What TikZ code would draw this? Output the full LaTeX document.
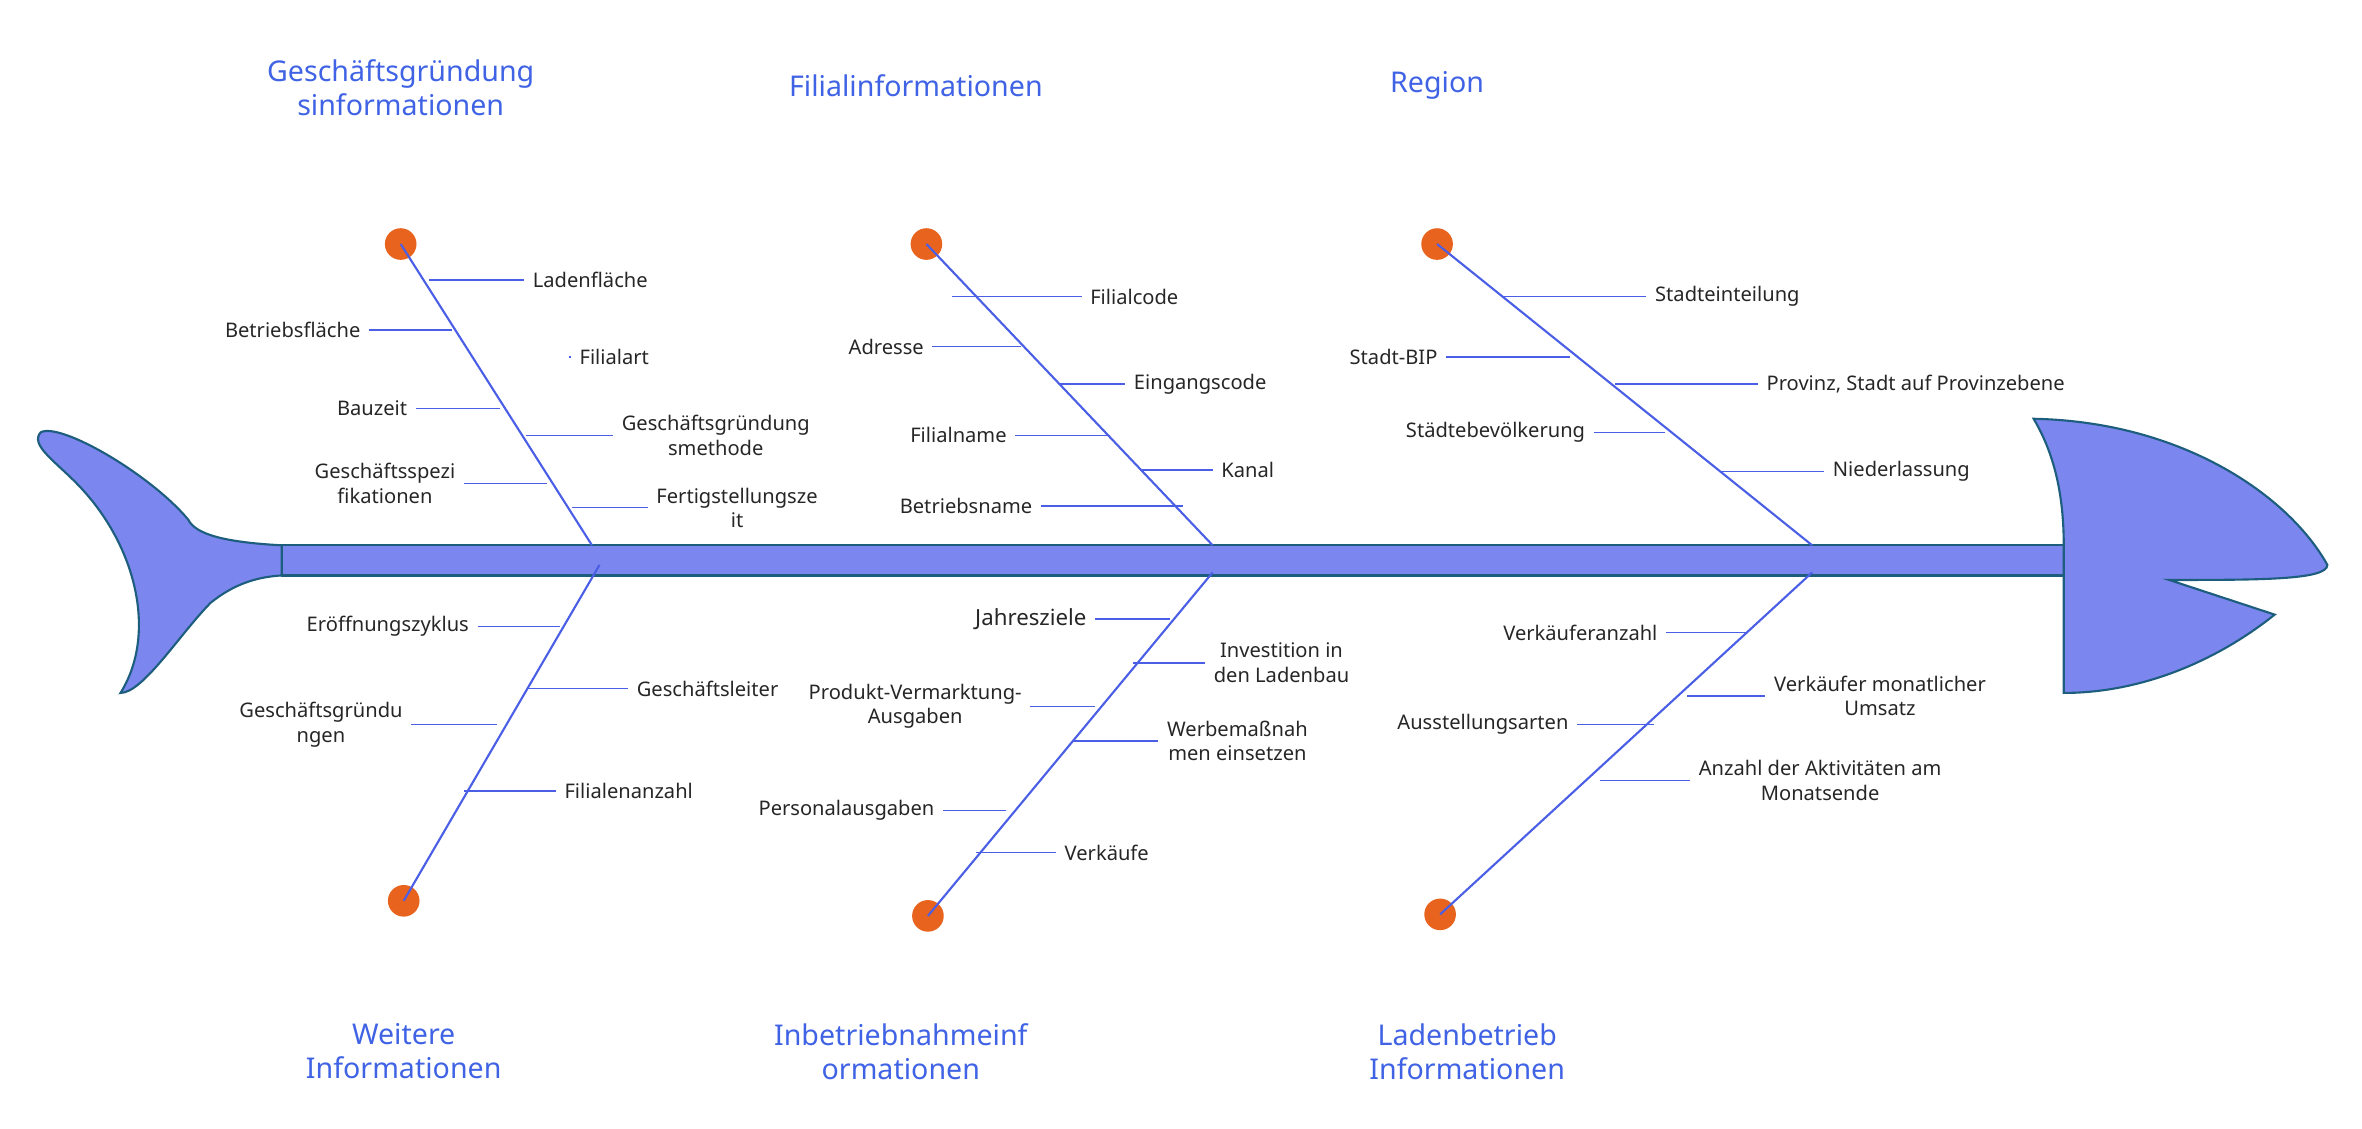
\documentclass[tikz,border=0pt]{standalone}
\usepackage{fontspec}
\setmainfont{Noto Sans}
\begin{document}
\begin{tikzpicture}[x=0.05cm,y=-0.05cm,
 body/.style={fill=fishfill,draw=fishedge,line width=2pt},
 bone/.style={draw=bonec,line width=2pt},
 sub/.style={draw=bonec,line width=1.3pt},
 dot/.style={circle,fill=dotc,minimum size=1.05cm,inner sep=0pt},
 lbl/.style={font=\fontsize{19}{23}\selectfont,text=black!85,align=center,inner sep=8pt},
 ttl/.style={font=\fontsize{27}{32}\selectfont\bfseries,text=titlec,align=center}]
\definecolor{fishfill}{HTML}{7B86EE}
\definecolor{fishedge}{HTML}{1D5E7E}
\definecolor{bonec}{HTML}{4A5FE6}
\definecolor{dotc}{HTML}{E8641E}
\definecolor{titlec}{HTML}{3F63E4}
\useasboundingbox (0,0) rectangle (1568,749);
% fish
\draw[body] (187,362) .. controls (150,360) and (130,355) .. (125,345) .. controls (100,315) and (40,280) .. (27,287) .. controls (20,295) and (35,305) .. (50,320) .. controls (90,360) and (105,420) .. (80,460) .. controls (95,460) and (120,420) .. (140,400) .. controls (155,388) and (170,383) .. (187,382) -- cycle;
\draw[body] (187,362) rectangle (1370,382);
\draw[body] (1370,362) .. controls (1370,320) and (1360,295) .. (1350,278) .. controls (1450,280) and (1520,330) .. (1545,375) .. controls (1545,385) and (1500,385) .. (1440,385) -- (1510,408) .. controls (1470,440) and (1420,460) .. (1370,460) -- cycle;
% dots and bones
\node[dot] (d1) at (266,162) {}; \coordinate (s1) at (393,362);
\node[dot] (d2) at (615,162) {}; \coordinate (s2) at (805,362);
\node[dot] (d3) at (954,162) {}; \coordinate (s3) at (1203,362);
\node[dot] (d4) at (268,598) {}; \coordinate (s4) at (398,375);
\node[dot] (d5) at (616,608) {}; \coordinate (s5) at (805,380);
\node[dot] (d6) at (956,607) {}; \coordinate (s6) at (1203,380);
\foreach \i in {1,...,6} \draw[bone] (d\i.center) -- (s\i);
% titles
\node[ttl] (t1) at (266,58) {Geschäftsgründung\\sinformationen};
\node[ttl] (t2) at (608,57) {Filialinformationen};
\node[ttl] (t3) at (954,57) {Region};
\node[ttl] (t4) at (268,698) {Weitere\\Informationen};
\node[ttl] (t5) at (598,698) {Inbetriebnahmeinf\\ormationen};
\node[ttl] (t6) at (974,698) {Ladenbetrieb\\Informationen};
% sub branches
\newcommand\fbR[5]{\node[lbl,anchor=west] (#1) at (#4,#3) {#5}; \draw[sub] (#2,#3) -- (#1.west);}
\newcommand\fbL[5]{\node[lbl,anchor=east] (#1) at (#4,#3) {#5}; \draw[sub] (#2,#3) -- (#1.east);}
\fbR{a1}{285}{186}{348}{Ladenfläche}
\fbL{a2}{300}{219}{245}{Betriebsfläche}
\fbR{a3}{378}{237}{379}{Filialart}
\fbL{a4}{332}{271}{276}{Bauzeit}
\fbR{a5}{349}{289}{407}{Geschäftsgründung\\smethode}
\fbL{a6}{363}{321}{308}{Geschäftsspezi\\fikationen}
\fbR{a7}{380}{337}{430}{Fertigstellungsze\\it}
\fbR{b1}{632}{197}{718}{Filialcode}
\fbL{b2}{678}{230}{619}{Adresse}
\fbR{b3}{703}{255}{747}{Eingangscode}
\fbL{b4}{737}{289}{674}{Filialname}
\fbR{b5}{757}{312}{805}{Kanal}
\fbL{b6}{785}{336}{691}{Betriebsname}
\fbR{c1}{997}{197}{1093}{Stadteinteilung}
\fbL{c2}{1042}{237}{960}{Stadt-BIP}
\fbR{c3}{1072}{255}{1167}{Provinz, Stadt auf Provinzebene}
\fbL{c4}{1105}{287}{1058}{Städtebevölkerung}
\fbR{c5}{1142}{313}{1211}{Niederlassung}
\fbL{e1}{372}{416}{317}{Eröffnungszyklus}
\fbR{e2}{350}{457}{417}{Geschäftsleiter}
\fbL{e3}{330}{481}{273}{Geschäftsgründu\\ngen}
\fbR{e4}{308}{525}{369}{Filialenanzahl}
\fbL{f1}{777}{411}{727}{\fontsize{21}{25}\selectfont Jahresziele}
\fbR{f2}{752}{440}{800}{Investition in\\den Ladenbau}
\fbL{f3}{727}{469}{684}{Produkt-Vermarktung-\\Ausgaben}
\fbR{f4}{712}{492}{769}{Werbemaßnah\\men einsetzen}
\fbL{f5}{668}{538}{626}{Personalausgaben}
\fbR{f6}{648}{566}{701}{Verkäufe}
\fbL{g1}{1160}{420}{1106}{Verkäuferanzahl}
\fbR{g2}{1120}{462}{1172}{Verkäufer monatlicher\\Umsatz}
\fbL{g3}{1098}{481}{1047}{Ausstellungsarten}
\fbR{g4}{1062}{518}{1122}{Anzahl der Aktivitäten am\\Monatsende}
\end{tikzpicture}
\end{document}
